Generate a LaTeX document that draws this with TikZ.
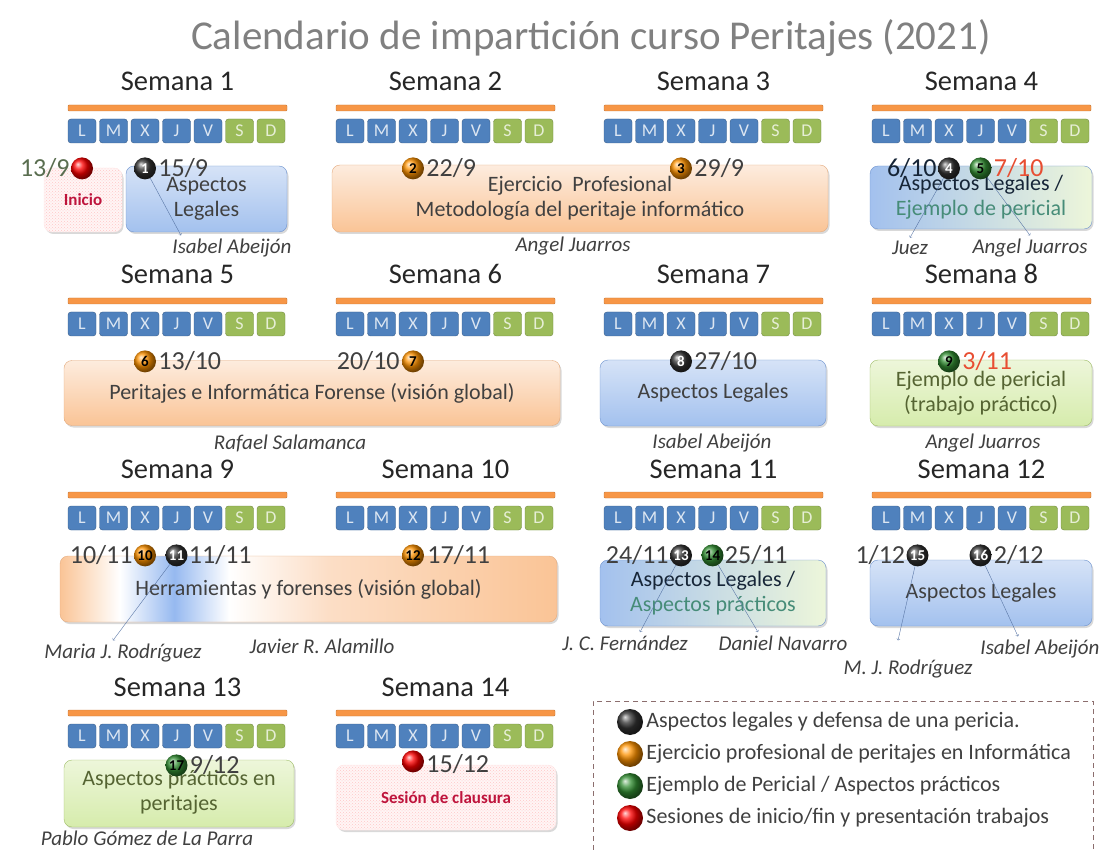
\documentclass[tikz,border=0pt]{standalone}
\usepackage{fontspec}
\setmainfont{Carlito}
\usetikzlibrary{positioning,shadows,patterns}

\definecolor{azuldia}{RGB}{79,129,189}
\definecolor{azulborde}{RGB}{56,93,138}
\definecolor{verdedia}{RGB}{155,187,89}
\definecolor{verdeborde}{RGB}{113,137,63}
\definecolor{naranja}{RGB}{247,150,70}
\definecolor{gristexto}{RGB}{64,64,64}
\definecolor{verdegris}{RGB}{90,110,80}
\definecolor{rojofecha}{RGB}{232,78,50}
\definecolor{granate}{RGB}{190,20,60}
\definecolor{tealtexto}{RGB}{70,140,120}
\definecolor{oliva}{RGB}{85,100,50}
\definecolor{azulclaro}{RGB}{214,227,247}
\definecolor{azulmedio}{RGB}{163,193,238}
\definecolor{azullinea}{RGB}{111,148,207}
\definecolor{naranjaclaro}{RGB}{253,236,222}
\definecolor{naranjamedio}{RGB}{250,196,150}
\definecolor{naranjalinea}{RGB}{228,172,128}
\definecolor{verdeclaro}{RGB}{237,246,218}
\definecolor{verdemedio}{RGB}{214,236,172}
\definecolor{verdelinea}{RGB}{160,190,105}
\definecolor{naranjapalido}{RGB}{252,222,198}
\definecolor{azulbrillo}{RGB}{150,185,240}
\definecolor{marronley}{RGB}{140,110,110}

\pgfdeclarehorizontalshading{herram}{100bp}{color(0bp)=(naranjamedio); color(25bp)=(naranjamedio); color(31bp)=(white); color(36.5bp)=(azulbrillo); color(42bp)=(white); color(52bp)=(naranjapalido); color(75bp)=(naranjamedio); color(100bp)=(naranjamedio)}

% cabecera de una semana: numero, x izquierda, y del titulo
\newcommand{\semanacab}[3]{%
  \node[semana] (s#1) at (#2+109.5,#3) {Semana #1};
  \node[barra] (b#1) at (#2+109.5,#3+24) {};
  \foreach \d/\e [count=\i from 0] in {L/dia,M/dia,X/dia,J/dia,V/dia,S/finde,D/finde}
    \node[\e] (s#1-\d) at (#2+14+\i*31.5,#3+47) {\d};
}

\begin{document}
\begin{tikzpicture}[x=1pt,y=-1pt]
\tikzstyle{titulo}=[text=gray, font=\fontsize{41}{44}\selectfont]
\tikzstyle{semana}=[text=black!85, text height=19pt, text depth=5pt, font=\fontsize{28.5}{30}\selectfont]
\tikzstyle{barra}=[draw=naranja!80!black, fill=naranja, minimum width=219pt, minimum height=6pt, inner sep=0pt, rounded corners=1pt]
\tikzstyle{dia}=[draw=azulborde, fill=azuldia, rounded corners=3pt, minimum width=28pt, minimum height=24pt, inner sep=0pt, text=white!80!azuldia, font=\fontsize{18}{18}\selectfont]
\tikzstyle{finde}=[dia, draw=verdeborde, fill=verdedia, text=white!75!verdedia]
\tikzstyle{caja}=[rounded corners=8pt, align=center, inner sep=2pt, text=gristexto, font=\fontsize{22}{25}\selectfont, drop shadow={opacity=0.3, shadow xshift=1.5pt, shadow yshift=-2pt}]
\tikzstyle{azul}=[caja, draw=azullinea, top color=azulclaro, bottom color=azulmedio]
\tikzstyle{naranjab}=[caja, draw=naranjalinea, top color=naranjaclaro, bottom color=naranjamedio]
\tikzstyle{verde}=[caja, draw=verdelinea, top color=verdeclaro, bottom color=verdemedio, text=oliva]
\tikzstyle{mixta}=[caja, draw=azullinea, left color=azulmedio, right color=verdeclaro, text=black!60!azulborde]
\tikzstyle{rosa}=[caja, draw=red!10, preaction={fill=red!4}, pattern=crosshatch dots, pattern color=red!22, text=granate, font=\bfseries\fontsize{17}{20}\selectfont]
\tikzstyle{bola}=[circle, minimum size=22pt, inner sep=0pt, font=\bfseries\fontsize{15}{15}\selectfont]
\tikzstyle{bolanegra}=[bola, ball color=black!80, text=white]
\tikzstyle{bolanaranja}=[bola, ball color=orange!85!yellow, text=black]
\tikzstyle{bolaverde}=[bola, ball color=green!45!black!80, text=black]
\tikzstyle{bolaroja}=[bola, ball color=red]
\tikzstyle{fecha}=[text=gristexto, inner sep=1pt, font=\fontsize{26}{26}\selectfont]
\tikzstyle{nombre}=[text=gristexto, font=\itshape\fontsize{21}{21}\selectfont]
\tikzstyle{flecha}=[->, draw=azullinea!80!black, thin]
\tikzstyle{leyenda}=[draw=marronley, dash pattern=on 5pt off 4pt, thick, minimum width=500pt, minimum height=170pt]
\tikzstyle{textoley}=[text=gristexto, inner sep=1pt, font=\fontsize{22}{22}\selectfont]

\useasboundingbox (0,0) rectangle (1101,850);

\node[titulo] (tit) at (591,38) {Calendario de impartición curso Peritajes (2021)};

% semanas
\semanacab{1}{68}{84}
\semanacab{2}{336}{84}
\semanacab{3}{604}{84}
\semanacab{4}{872}{84}
\semanacab{5}{68}{277}
\semanacab{6}{336}{277}
\semanacab{7}{604}{277}
\semanacab{8}{872}{277}
\semanacab{9}{68}{471}
\semanacab{10}{336}{471}
\semanacab{11}{604}{471}
\semanacab{12}{872}{471}
\semanacab{13}{68}{689}
\semanacab{14}{336}{689}

% sesiones
\node[rosa, minimum width=78pt, minimum height=64pt] (inicio) at (83,200) {Inicio};
\node[azul, minimum width=161pt, minimum height=66pt] (c1) at (206.5,199) {Aspectos\\Legales};
\node[naranjab, minimum width=496pt, minimum height=67pt] (c2) at (580,198.5) {Ejercicio\ \ Profesional\\Metodología del peritaje informático};
\node[mixta, minimum width=222pt, minimum height=63pt] (c4) at (981,197.5) {Aspectos Legales /\\\textcolor{tealtexto}{Ejemplo de pericial}};
\node[naranjab, minimum width=496pt, minimum height=65pt] (c5) at (312,393) {Peritajes e Informática Forense (visión global)};
\node[azul, minimum width=226pt, minimum height=66pt] (c7) at (713,393) {Aspectos Legales};
\node[verde, minimum width=222pt, minimum height=66pt] (c8) at (981,393) {Ejemplo de pericial\\(trabajo práctico)};
\node[caja, draw=naranjalinea, shading=herram, minimum width=497pt, minimum height=66pt] (c9) at (308.5,589) {Herramientas y forenses (visión global)};
\node[mixta, minimum width=226pt, minimum height=66pt] (c11) at (713,593) {Aspectos Legales /\\\textcolor{tealtexto}{Aspectos prácticos}};
\node[azul, minimum width=222pt, minimum height=66pt] (c12) at (981,593) {Aspectos Legales};
\node[verde, minimum width=230pt, minimum height=67pt] (c13) at (179,793.5) {\\[-12pt]Aspectos prácticos en\\peritajes};
\node[rosa, minimum width=220pt, minimum height=65pt] (fin) at (446,797.5) {Sesión de clausura};

% bolas
\node[bolaroja, below=14pt of s1-L] (p0) {};
\node[bolanegra, below=14pt of s1-X] (p1) {1};
\node[bolanaranja, below=14pt of s2-X] (p2) {2};
\node[bolanaranja, below=14pt of s3-X] (p3) {3};
\node[bolanegra, below=14pt of s4-X] (p4) {4};
\node[bolaverde, below=14pt of s4-J] (p5) {5};
\node[bolanaranja, below=14pt of s5-X] (p6) {6};
\node[bolanaranja, below=14pt of s6-X] (p7) {7};
\node[bolanegra, below=14pt of s7-X] (p8) {8};
\node[bolaverde, below=14pt of s8-X] (p9) {9};
\node[bolanaranja, below=14pt of s9-X] (p10) {10};
\node[bolanegra, below=14pt of s9-J] (p11) {11};
\node[bolanaranja, below=14pt of s10-X] (p12) {12};
\node[bolanegra, below=14pt of s11-X] (p13) {13};
\node[bolaverde, below=14pt of s11-J] (p14) {14};
\node[bolanegra, below=14pt of s12-M] (p15) {15};
\node[bolanegra, below=14pt of s12-J] (p16) {16};
\node[bolaverde, below=6pt of s13-J] (p17) {17};
\node[bolaroja, below=2pt of s14-X] (p18) {};

% fechas
\node[fecha, left=0pt of p0, text=verdegris] (f0) {13/9};
\node[fecha, right=1pt of p1] (f1) {15/9};
\node[fecha, right=1pt of p2] (f2) {22/9};
\node[fecha, right=1pt of p3] (f3) {29/9};
\node[fecha, left=0pt of p4, text=black!60!azulborde] (f4) {6/10};
\node[fecha, right=1pt of p5, text=rojofecha] (f5) {7/10};
\node[fecha, right=1pt of p6] (f6) {13/10};
\node[fecha, left=1pt of p7] (f7) {20/10};
\node[fecha, right=1pt of p8] (f8) {27/10};
\node[fecha, right=1pt of p9, text=rojofecha] (f9) {3/11};
\node[fecha, left=0pt of p10] (f10) {10/11};
\node[fecha, right=0pt of p11] (f11) {11/11};
\node[fecha, right=2pt of p12] (f12) {17/11};
\node[fecha, left=0pt of p13] (f13) {24/11};
\node[fecha, right=0pt of p14] (f14) {25/11};
\node[fecha, left=0pt of p15] (f15) {1/12};
\node[fecha, right=1pt of p16] (f16) {2/12};
\node[fecha, right=1pt of p17] (f17) {9/12};
\node[fecha, right=1pt of p18, yshift=-3pt] (f18) {15/12};

% profesores
\node[nombre] (n1) at (232,248) {Isabel Abeijón};
\node[nombre] (n2) at (573,246) {Angel Juarros};
\node[nombre] (n4a) at (910,248) {Juez};
\node[nombre] (n4b) at (1030,248) {Angel Juarros};
\node[nombre] (n5) at (290,443) {Rafael Salamanca};
\node[nombre] (n7) at (712,443) {Isabel Abeijón};
\node[nombre] (n8) at (983,443) {Angel Juarros};
\node[nombre] (n9a) at (123,653) {Maria J. Rodríguez};
\node[nombre] (n9b) at (322,646) {Javier R. Alamillo};
\node[nombre] (n11a) at (625,643) {J. C. Fernández};
\node[nombre] (n11b) at (783,643) {Daniel Navarro};
\node[nombre] (n12a) at (908,669) {M. J. Rodríguez};
\node[nombre] (n12b) at (1040,649) {Isabel Abeijón};
\node[nombre] (n13) at (147,838) {Pablo Gómez de La Parra};

\draw[flecha] (p1) -- ([xshift=12pt]n1.north west);
\draw[flecha] (p4) -- (n4a.north);
\draw[flecha] (p5) -- (n4b.north);
\draw[flecha] (p11) -- ([xshift=-10pt]n9a.north);
\draw[flecha] (p13) -- ([xshift=15pt]n11a.north);
\draw[flecha] (p14) -- ([xshift=-25pt]n11b.north);
\draw[flecha] (p15) -- ([xshift=-10pt,yshift=16pt]n12a.north);
\draw[flecha] (p16) -- ([xshift=-22pt]n12b.north);

% leyenda
\node[leyenda] (ley) at (843,786) {};
\node[bolanegra, minimum size=26pt] (l1) at (630,722) {};
\node[bolanaranja, minimum size=26pt] (l2) at (630,754) {};
\node[bolaverde, minimum size=26pt] (l3) at (630,786) {};
\node[bolaroja, minimum size=26pt] (l4) at (630,818) {};
\node[textoley, right=2pt of l1] (t1) {Aspectos legales y defensa de una pericia.};
\node[textoley, right=2pt of l2] (t2) {Ejercicio profesional de peritajes en Informática};
\node[textoley, right=2pt of l3] (t3) {Ejemplo de Pericial / Aspectos prácticos};
\node[textoley, right=2pt of l4] (t4) {Sesiones de inicio/fin y presentación trabajos};
\end{tikzpicture}
\end{document}
